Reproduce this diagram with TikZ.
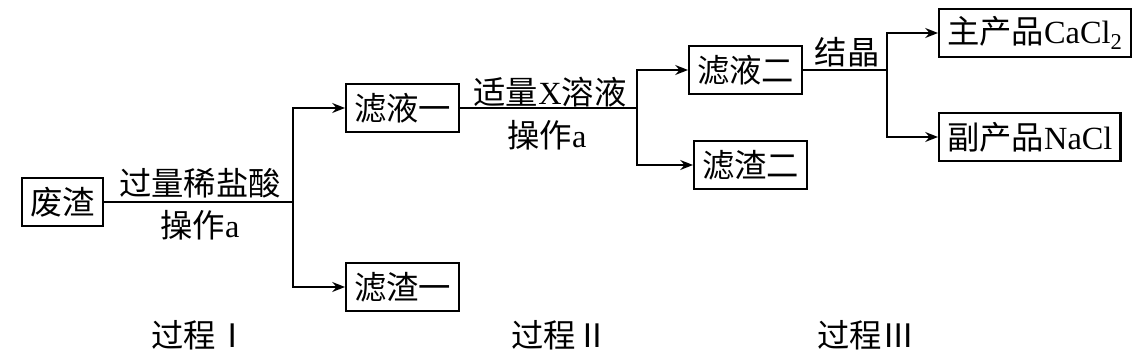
\documentclass[tikz,border=0pt]{standalone}
\usepackage{fontspec}
\setmainfont{Liberation Serif}
\newfontfamily\cjk{Noto Sans CJK SC}
\usetikzlibrary{arrows.meta,positioning}

\begin{document}
\begin{tikzpicture}[x=0.025cm, y=-0.025cm, >={Stealth[length=9pt,width=7pt]}, line width=1.6pt,
    every node/.style={font=\fontsize{23}{26}\selectfont},
    stuff/.style={draw, line width=1.6pt, minimum height=1.2cm, inner xsep=0.2cm, anchor=west}]
  \useasboundingbox (0,0) rectangle (1144,359);
  % boxes
  \node[stuff] (waste) at (21,202) {\cjk 废渣};
  \node[stuff] (liq1) at (345,108) {\cjk 滤液一};
  \node[stuff] (res1) at (345,287) {\cjk 滤渣一};
  \node[stuff] (liq2) at (688,70) {\cjk 滤液二};
  \node[stuff] (res2) at (693,165) {\cjk 滤渣二};
  \node[stuff] (cacl) at (938,33) {{\cjk 主产品}CaCl\textsubscript{2}};
  \node[stuff] (nacl) at (938,137) {{\cjk 副产品}NaCl};
  % branch points
  \coordinate (b1) at (293,202);
  \coordinate (b2) at (637,108);
  \coordinate (b3) at (887,70);
  \draw (waste.east) -- (b1);
  \draw[->] (b1) |- (liq1.west);
  \draw[->] (b1) |- (res1.west);
  \draw (liq1.east) -- (b2);
  \draw[->] (b2) |- (liq2.west);
  \draw[->] (b2) |- (res2.west);
  \draw (liq2.east) -- (b3);
  \draw[->] (b3) |- (cacl.west);
  \draw[->] (b3) |- (nacl.west);
  % labels
  \node (acid) at (200,183) {\cjk 过量稀盐酸};
  \node (op1) at (200,225) {{\cjk 操作}a};
  \node (xsol) at (550,92) {{\cjk 适量}X{\cjk 溶液}};
  \node (op2) at (547,135) {{\cjk 操作}a};
  \node (cryst) at (847,52) {\cjk 结晶};
  \node (p1) at (200,335) {\cjk 过程Ⅰ};
  \node (p2) at (560,335) {\cjk 过程Ⅱ};
  \node (p3) at (866,335) {\cjk 过程Ⅲ};
\end{tikzpicture}
\end{document}
